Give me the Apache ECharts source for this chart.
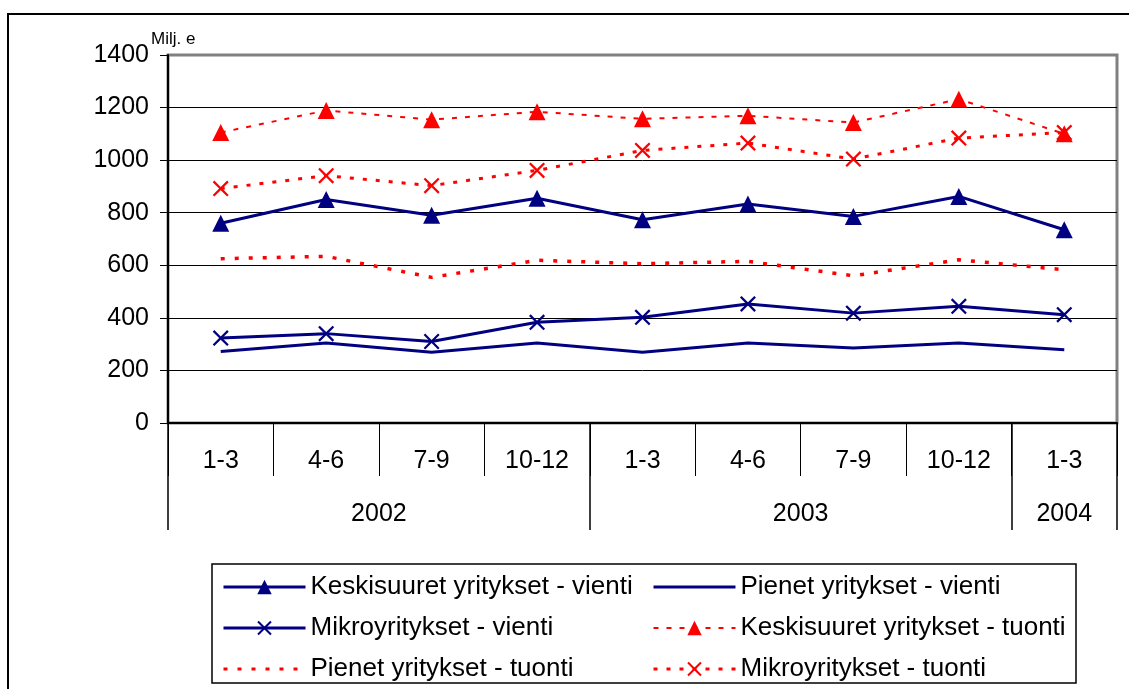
<!DOCTYPE html>
<html>
<head>
<meta charset="utf-8">
<script src="https://cdn.jsdelivr.net/npm/echarts@6/dist/echarts.min.js"></script>
<style>
  html, body { margin: 0; padding: 0; background: #fff; }
  #chart { width: 1129px; height: 689px; }
</style>
</head>
<body>
<div id="chart"></div>
<script>
// quarters on the x axis, grouped by year
const quarters = ["1-3", "4-6", "7-9", "10-12", "1-3", "4-6", "7-9", "10-12", "1-3"];
const years = ["2002", "2003", "2004"];
const yearSpans = [4, 4, 1];

// values, Milj. e
const keskisuuretVienti = [760, 850, 790, 855, 773, 833, 786, 862, 735];
const pienetVienti = [272, 304, 269, 304, 269, 304, 285, 304, 279];
const mikroVienti = [323, 340, 310, 383, 402, 453, 418, 444, 412];
const keskisuuretTuonti = [1105, 1189, 1154, 1184, 1157, 1169, 1143, 1232, 1100];
const pienetTuonti = [625, 634, 554, 619, 606, 615, 560, 621, 583];
const mikroTuonti = [892, 941, 903, 961, 1037, 1065, 1004, 1084, 1105];

const NAVY = "#000080";
const RED = "#ff0000";
const FONT = "'Liberation Sans', Arial, sans-serif";
// X marker as a filled polygon
const CROSS = "path://M0,1 L1,0 L5,4 L9,0 L10,1 L6,5 L10,9 L9,10 L5,6 L1,10 L0,9 L4,5 Z";

// year boundaries and label positions on a 0..9 scale
const yearTicks = [0];
const yearLabelPos = [];
let acc = 0;
yearSpans.forEach((s) => {
  yearLabelPos.push(acc + s / 2);
  acc += s;
  yearTicks.push(acc);
});

const legendText = { fontSize: 26, color: "#000", fontFamily: FONT };
const noMarker = { opacity: 0 };

const chart = echarts.init(document.getElementById("chart"));

const option = {
  animation: false,
  textStyle: { fontFamily: FONT, color: "#000" },
  title: {
    text: "Milj. e",
    left: 146,
    top: 26,
    textStyle: { fontSize: 17, fontWeight: "normal", color: "#000", fontFamily: FONT },
  },
  graphic: [
    {
      type: "rect",
      shape: { x: 8, y: 14, width: 1300, height: 900 },
      style: { fill: "none", stroke: "#000", lineWidth: 2 },
      silent: true,
    },
    {
      type: "rect",
      shape: { x: 212, y: 564, width: 864, height: 119 },
      style: { fill: "none", stroke: "#000", lineWidth: 1.5 },
      silent: true,
    },
  ],
  legend: [
    {
      orient: "vertical",
      left: 217,
      top: 569,
      itemWidth: 82,
      itemHeight: 18,
      itemGap: 15,
      lineStyle: { width: 3 },
      textStyle: legendText,
      data: [
        "Keskisuuret yritykset - vienti",
        "Mikroyritykset - vienti",
        { name: "Pienet yritykset - tuonti", itemStyle: noMarker },
      ],
    },
    {
      orient: "vertical",
      left: 647,
      top: 569,
      itemWidth: 82,
      itemHeight: 18,
      itemGap: 15,
      lineStyle: { width: 3 },
      textStyle: legendText,
      data: [
        { name: "Pienet yritykset - vienti", itemStyle: noMarker },
        { name: "Keskisuuret yritykset - tuonti", lineStyle: { width: 2 } },
        "Mikroyritykset - tuonti",
      ],
    },
  ],
  grid: {
    left: 168,
    right: 12,
    top: 55,
    bottom: 266,
    show: true,
    borderColor: "#808080",
    borderWidth: 3,
  },
  xAxis: [
    {
      type: "category",
      data: quarters,
      position: "bottom",
      boundaryGap: true,
      axisLine: { onZero: false, lineStyle: { color: "#000", width: 2 } },
      axisTick: { show: true, interval: 0, length: 53, lineStyle: { color: "#000", width: 1 } },
      axisLabel: { interval: 0, fontSize: 25, color: "#000", margin: 26, fontFamily: FONT },
      splitLine: { show: false },
    },
    {
      type: "value",
      min: 0,
      max: 9,
      position: "bottom",
      axisLine: { show: false, onZero: false },
      axisTick: {
        show: true,
        customValues: yearTicks,
        length: 107,
        lineStyle: { color: "#000", width: 1.5 },
      },
      axisLabel: {
        customValues: yearLabelPos,
        formatter: (v) => years[yearLabelPos.indexOf(v)] || "",
        fontSize: 25,
        color: "#000",
        margin: 79,
        fontFamily: FONT,
      },
      splitLine: { show: false },
    },
  ],
  yAxis: {
    type: "value",
    min: 0,
    max: 1400,
    interval: 200,
    axisLine: { show: true, onZero: false, lineStyle: { color: "#000", width: 2 } },
    axisTick: { show: true, length: 8, lineStyle: { color: "#000", width: 1 } },
    axisLabel: { fontSize: 25, color: "#000", margin: 19, fontFamily: FONT, formatter: (v) => String(v) },
    splitLine: { show: true, showMaxLine: false, lineStyle: { color: "#000", width: 1 } },
  },
  series: [
    {
      name: "Keskisuuret yritykset - vienti",
      type: "line",
      data: keskisuuretVienti,
      symbol: "triangle",
      symbolSize: 17,
      itemStyle: { color: NAVY },
      lineStyle: { color: NAVY, width: 3 },
    },
    {
      name: "Pienet yritykset - vienti",
      type: "line",
      data: pienetVienti,
      symbol: "none",
      itemStyle: { color: NAVY },
      lineStyle: { color: NAVY, width: 3 },
    },
    {
      name: "Mikroyritykset - vienti",
      type: "line",
      data: mikroVienti,
      symbol: CROSS,
      symbolSize: 16,
      itemStyle: { color: NAVY },
      lineStyle: { color: NAVY, width: 3 },
    },
    {
      name: "Keskisuuret yritykset - tuonti",
      type: "line",
      data: keskisuuretTuonti,
      symbol: "triangle",
      symbolSize: 17,
      itemStyle: { color: RED },
      lineStyle: { color: RED, width: 2, type: [5, 8] },
    },
    {
      name: "Pienet yritykset - tuonti",
      type: "line",
      data: pienetTuonti,
      symbol: "none",
      itemStyle: { color: RED },
      lineStyle: { color: RED, width: 3.5, type: [4, 10] },
    },
    {
      name: "Mikroyritykset - tuonti",
      type: "line",
      data: mikroTuonti,
      symbol: CROSS,
      symbolSize: 16,
      itemStyle: { color: RED },
      lineStyle: { color: RED, width: 3, type: [4, 9] },
    },
  ],
};

chart.setOption(option);
</script>
</body>
</html>
